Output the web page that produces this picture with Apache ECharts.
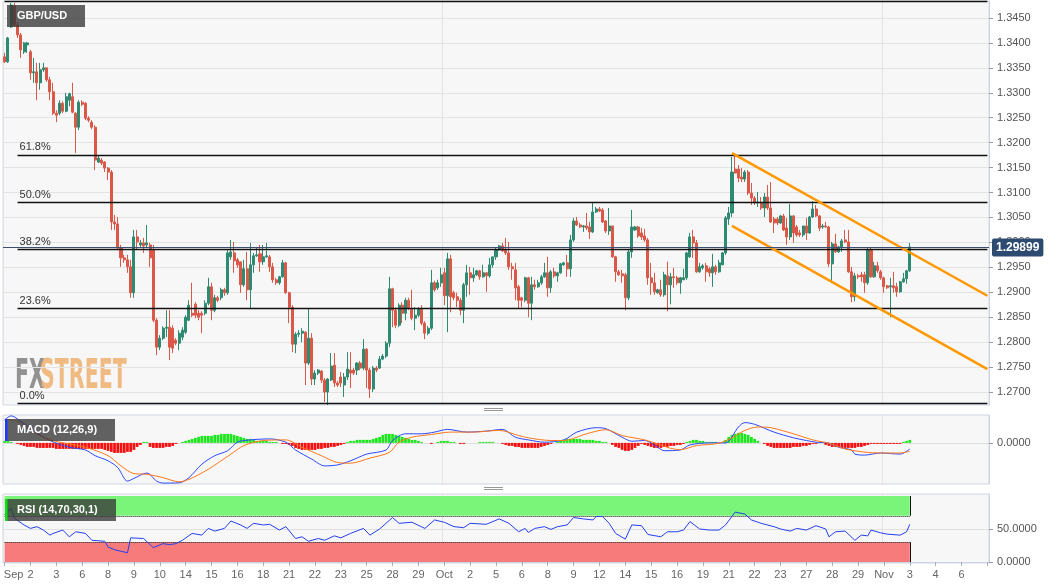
<!DOCTYPE html>
<html>
<head>
<meta charset="utf-8">
<title>GBP/USD</title>
<script src="https://cdn.jsdelivr.net/npm/echarts@6/dist/echarts.min.js"></script>
<style>
html, body { margin: 0; padding: 0; background: #ffffff; }
#chart { width: 1060px; height: 587px; }
</style>
</head>
<body>
<div id="chart"></div>
<script>
// 4h candles, 1 Sep - 3 Nov : [open, close, low, high]
const candles = [
  [1.3372,1.3362,1.3360,1.3380],[1.3362,1.3410,1.3360,1.3412],[1.3432,1.3476,1.3430,1.3480],[1.3474,1.3436,1.3432,1.3480],
  [1.3436,1.3416,1.3410,1.3442],[1.3416,1.3386,1.3370,1.3420],[1.3382,1.3400,1.3378,1.3402],[1.3396,1.3400,1.3380,1.3402],
  [1.3382,1.3340,1.3326,1.3386],[1.3340,1.3342,1.3320,1.3370],[1.3342,1.3320,1.3285,1.3360],[1.3320,1.3346,1.3306,1.3360],
  [1.3346,1.3350,1.3342,1.3360],[1.3350,1.3326,1.3322,1.3350],[1.3326,1.3302,1.3285,1.3332],[1.3302,1.3259,1.3255,1.3320],
  [1.3259,1.3255,1.3241,1.3265],[1.3259,1.3279,1.3255,1.3285],[1.3279,1.3263,1.3259,1.3283],[1.3263,1.3292,1.3261,1.3300],
  [1.3285,1.3298,1.3273,1.3300],[1.3292,1.3261,1.3259,1.3320],[1.3259,1.3231,1.3179,1.3261],[1.3231,1.3281,1.3225,1.3285],
  [1.3281,1.3277,1.3273,1.3285],[1.3279,1.3249,1.3245,1.3281],[1.3249,1.3245,1.3241,1.3253],[1.3241,1.3231,1.3227,1.3245],
  [1.3231,1.3165,1.3145,1.3235],[1.3161,1.3169,1.3159,1.3175],[1.3165,1.3159,1.3155,1.3169],[1.3161,1.3149,1.3141,1.3163],
  [1.3149,1.3141,1.3125,1.3151],[1.3141,1.3041,1.3025,1.3145],[1.3041,1.3037,1.3025,1.3055],[1.3037,1.2989,1.2985,1.3051],
  [1.2989,1.2969,1.2951,1.2995],[1.2969,1.2965,1.2959,1.2975],[1.2965,1.2951,1.2939,1.2975],[1.2951,1.2899,1.2889,1.2965],
  [1.2899,1.3011,1.2889,1.3025],[1.3011,1.3001,1.2985,1.3025],[1.2995,1.2999,1.2991,1.3005],[1.2999,1.2993,1.2979,1.3009],
  [1.2995,1.2999,1.2989,1.3035],[1.2995,1.2969,1.2951,1.2999],[1.2985,1.2844,1.2840,1.2995],[1.2844,1.2790,1.2774,1.2848],
  [1.2790,1.2808,1.2784,1.2814],[1.2808,1.2828,1.2804,1.2832],[1.2828,1.2830,1.2810,1.2864],[1.2830,1.2790,1.2764,1.2864],
  [1.2828,1.2788,1.2778,1.2834],[1.2804,1.2798,1.2794,1.2808],[1.2798,1.2818,1.2784,1.2824],[1.2810,1.2824,1.2804,1.2830],
  [1.2820,1.2850,1.2816,1.2854],[1.2844,1.2874,1.2842,1.2884],[1.2858,1.2854,1.2850,1.2919],[1.2876,1.2854,1.2848,1.2880],
  [1.2858,1.2850,1.2844,1.2864],[1.2858,1.2854,1.2818,1.2862],[1.2858,1.2878,1.2854,1.2884],[1.2878,1.2911,1.2874,1.2929],
  [1.2911,1.2864,1.2844,1.2919],[1.2864,1.2889,1.2860,1.2895],[1.2889,1.2884,1.2880,1.2893],[1.2889,1.2905,1.2884,1.2909],
  [1.2905,1.2899,1.2893,1.2909],[1.2899,1.2979,1.2895,1.2985],[1.2971,1.2981,1.2965,1.3005],[1.2979,1.2963,1.2939,1.3001],
  [1.2965,1.2955,1.2949,1.2969],[1.2961,1.2915,1.2899,1.2961],[1.2915,1.2947,1.2911,1.2965],[1.2947,1.2905,1.2884,1.2981],
  [1.2905,1.2955,1.2866,1.2999],[1.2955,1.2973,1.2939,1.2979],[1.2973,1.2975,1.2971,1.2991],[1.2977,1.2961,1.2941,1.2995],
  [1.2961,1.2971,1.2955,1.2995],[1.2971,1.2973,1.2969,1.2999],[1.2971,1.2951,1.2941,1.2975],[1.2951,1.2925,1.2919,1.2959],
  [1.2925,1.2919,1.2915,1.2929],[1.2919,1.2931,1.2915,1.2933],[1.2931,1.2959,1.2929,1.2965],[1.2959,1.2899,1.2897,1.2961],
  [1.2899,1.2870,1.2838,1.2901],[1.2870,1.2796,1.2780,1.2874],[1.2796,1.2816,1.2778,1.2820],[1.2816,1.2818,1.2810,1.2824],
  [1.2818,1.2822,1.2800,1.2828],[1.2820,1.2758,1.2714,1.2822],[1.2758,1.2808,1.2754,1.2868],[1.2808,1.2726,1.2714,1.2818],
  [1.2726,1.2738,1.2714,1.2744],[1.2738,1.2744,1.2734,1.2746],[1.2742,1.2724,1.2718,1.2744],[1.2724,1.2700,1.2680,1.2728],
  [1.2700,1.2726,1.2674,1.2728],[1.2724,1.2752,1.2722,1.2778],[1.2754,1.2718,1.2710,1.2778],[1.2718,1.2714,1.2710,1.2722],
  [1.2730,1.2718,1.2710,1.2740],[1.2714,1.2730,1.2690,1.2738],[1.2730,1.2746,1.2724,1.2780],[1.2744,1.2738,1.2708,1.2780],
  [1.2744,1.2738,1.2734,1.2748],[1.2744,1.2758,1.2734,1.2760],[1.2758,1.2748,1.2744,1.2762],[1.2748,1.2786,1.2744,1.2806],
  [1.2786,1.2744,1.2708,1.2788],[1.2744,1.2706,1.2688,1.2748],[1.2706,1.2748,1.2700,1.2752],[1.2748,1.2744,1.2740,1.2752],
  [1.2748,1.2766,1.2746,1.2772],[1.2766,1.2772,1.2764,1.2776],[1.2772,1.2798,1.2768,1.2802],[1.2798,1.2907,1.2790,1.2931],
  [1.2907,1.2864,1.2830,1.2909],[1.2864,1.2834,1.2828,1.2869],[1.2834,1.2874,1.2830,1.2878],[1.2874,1.2858,1.2838,1.2880],
  [1.2858,1.2884,1.2844,1.2889],[1.2884,1.2868,1.2864,1.2889],[1.2866,1.2848,1.2844,1.2905],[1.2848,1.2854,1.2824,1.2870],
  [1.2854,1.2866,1.2850,1.2870],[1.2866,1.2838,1.2834,1.2874],[1.2838,1.2818,1.2806,1.2842],[1.2818,1.2828,1.2814,1.2832],
  [1.2828,1.2919,1.2824,1.2945],[1.2919,1.2905,1.2901,1.2923],[1.2909,1.2919,1.2905,1.2925],[1.2919,1.2935,1.2911,1.2949],
  [1.2939,1.2893,1.2874,1.2949],[1.2893,1.2967,1.2820,1.2979],[1.2967,1.2891,1.2860,1.2975],[1.2899,1.2889,1.2884,1.2903],
  [1.2891,1.2884,1.2870,1.2899],[1.2884,1.2864,1.2854,1.2889],[1.2864,1.2915,1.2838,1.2919],[1.2915,1.2939,1.2891,1.2955],
  [1.2939,1.2929,1.2895,1.2951],[1.2929,1.2935,1.2921,1.2949],[1.2935,1.2943,1.2933,1.2945],[1.2943,1.2931,1.2925,1.2945],
  [1.2931,1.2939,1.2929,1.2955],[1.2939,1.2933,1.2901,1.2941],[1.2933,1.2955,1.2929,1.2969],[1.2955,1.2971,1.2949,1.2971],
  [1.2971,1.2985,1.2965,1.2991],[1.2985,1.2993,1.2983,1.2995],[1.2993,1.2983,1.2981,1.2999],[1.2985,1.2979,1.2975,1.3009],
  [1.2979,1.2951,1.2945,1.3001],[1.2951,1.2947,1.2925,1.2959],[1.2945,1.2909,1.2884,1.2959],[1.2911,1.2884,1.2868,1.2915],
  [1.2889,1.2884,1.2870,1.2891],[1.2884,1.2929,1.2880,1.2931],[1.2929,1.2878,1.2850,1.2931],[1.2878,1.2915,1.2844,1.2931],
  [1.2915,1.2911,1.2905,1.2925],[1.2911,1.2919,1.2909,1.2925],[1.2919,1.2931,1.2915,1.2935],[1.2931,1.2939,1.2929,1.2959],
  [1.2939,1.2909,1.2891,1.2971],[1.2909,1.2941,1.2899,1.2945],[1.2941,1.2933,1.2929,1.2949],[1.2933,1.2939,1.2921,1.2941],
  [1.2939,1.2957,1.2937,1.2959],[1.2955,1.2959,1.2953,1.2961],[1.2959,1.2947,1.2931,1.2975],[1.2947,1.3005,1.2931,1.3015],
  [1.3005,1.3043,1.3001,1.3049],[1.3043,1.3035,1.3033,1.3051],[1.3035,1.3031,1.3029,1.3039],[1.3031,1.3033,1.3021,1.3035],
  [1.3033,1.3029,1.3025,1.3059],[1.3031,1.3021,1.3007,1.3041],[1.3021,1.3061,1.3019,1.3081],[1.3061,1.3067,1.3059,1.3071],
  [1.3067,1.3063,1.3061,1.3071],[1.3065,1.3041,1.3039,1.3069],[1.3043,1.3023,1.3019,1.3045],[1.3023,1.3033,1.3015,1.3069],
  [1.3033,1.2971,1.2969,1.3033],[1.2971,1.2941,1.2921,1.2973],[1.2941,1.2935,1.2933,1.2945],[1.2937,1.2933,1.2919,1.2945],
  [1.2935,1.2889,1.2864,1.2939],[1.2889,1.2981,1.2884,1.2985],[1.2981,1.3031,1.2969,1.3065],[1.3025,1.3031,1.3023,1.3033],
  [1.3031,1.3013,1.3009,1.3033],[1.3019,1.3011,1.3005,1.3029],[1.3013,1.3005,1.3001,1.3027],[1.3005,1.2929,1.2915,1.3009],
  [1.2929,1.2919,1.2895,1.2959],[1.2919,1.2901,1.2895,1.2939],[1.2899,1.2905,1.2897,1.2907],[1.2905,1.2895,1.2891,1.2925],
  [1.2895,1.2935,1.2891,1.2941],[1.2933,1.2915,1.2862,1.2961],[1.2915,1.2931,1.2876,1.2939],[1.2931,1.2929,1.2909,1.2949],
  [1.2929,1.2919,1.2915,1.2933],[1.2919,1.2929,1.2897,1.2931],[1.2925,1.2929,1.2925,1.2947],[1.2929,1.2979,1.2925,1.2981],
  [1.2971,1.3011,1.2969,1.3019],[1.3011,1.2999,1.2969,1.3025],[1.2999,1.2941,1.2939,1.3005],[1.2941,1.2951,1.2939,1.2959],
  [1.2949,1.2953,1.2945,1.2957],[1.2953,1.2941,1.2921,1.2959],[1.2947,1.2939,1.2931,1.2951],[1.2939,1.2951,1.2911,1.2977],
  [1.2951,1.2941,1.2935,1.2955],[1.2941,1.2959,1.2939,1.2965],[1.2955,1.2979,1.2955,1.2981],[1.2979,1.3049,1.2975,1.3053],
  [1.3047,1.3059,1.3035,1.3071],[1.3059,1.3141,1.3051,1.3171],[1.3147,1.3139,1.3139,1.3179],[1.3147,1.3129,1.3121,1.3155],
  [1.3131,1.3127,1.3121,1.3149],[1.3127,1.3141,1.3121,1.3145],[1.3141,1.3099,1.3095,1.3145],[1.3099,1.3089,1.3075,1.3119],
  [1.3089,1.3079,1.3075,1.3093],[1.3079,1.3081,1.3071,1.3101],[1.3079,1.3069,1.3065,1.3091],[1.3069,1.3091,1.3051,1.3099],
  [1.3091,1.3069,1.3065,1.3115],[1.3069,1.3041,1.3039,1.3121],[1.3047,1.3039,1.3019,1.3051],[1.3047,1.3039,1.3035,1.3051],
  [1.3039,1.3053,1.3037,1.3055],[1.3053,1.3025,1.3023,1.3057],[1.3029,1.3011,1.2995,1.3049],[1.3011,1.3053,1.3005,1.3077],
  [1.3053,1.3019,1.2999,1.3055],[1.3031,1.3015,1.3011,1.3035],[1.3019,1.3015,1.3011,1.3025],[1.3015,1.3033,1.3011,1.3033],
  [1.3033,1.3019,1.3005,1.3049],[1.3019,1.3051,1.3017,1.3053],[1.3051,1.3067,1.3049,1.3083],[1.3067,1.3053,1.3051,1.3075],
  [1.3053,1.3029,1.3023,1.3055],[1.3031,1.3033,1.3027,1.3037],[1.3033,1.3031,1.3029,1.3041],[1.3031,1.2957,1.2951,1.3033],
  [1.2957,1.2997,1.2921,1.3001],[1.2997,1.2981,1.2979,1.3017],[1.2981,1.2991,1.2979,1.2993],[1.2991,1.3003,1.2981,1.3007],
  [1.3005,1.3001,1.2999,1.3025],[1.3001,1.2941,1.2939,1.3025],[1.2941,1.2891,1.2880,1.2951],[1.2891,1.2933,1.2882,1.2939],
  [1.2933,1.2931,1.2927,1.2937],[1.2935,1.2931,1.2921,1.2941],[1.2935,1.2919,1.2899,1.2941],[1.2919,1.2985,1.2915,1.2989],
  [1.2985,1.2931,1.2929,1.2989],[1.2931,1.2953,1.2929,1.2961],[1.2953,1.2943,1.2939,1.2961],[1.2941,1.2929,1.2925,1.2945],
  [1.2929,1.2911,1.2899,1.2931],[1.2913,1.2909,1.2907,1.2915],[1.2911,1.2913,1.2850,1.2929],[1.2913,1.2909,1.2899,1.2941],
  [1.2911,1.2901,1.2891,1.2919],[1.2901,1.2921,1.2899,1.2923],[1.2921,1.2927,1.2919,1.2939],[1.2927,1.2943,1.2917,1.2945],
  [1.2943,1.2991,1.2941,1.2999]
];

// one label every 8 bars
const dayLabels = ['Sep','2','3','6','8','9','10','14','15','16','18','21','22','23','25','28','29','Oct','2','5','6',
  '8','9','12','14','15','16','19','21','22','23','27','28','29','Nov','3','4','6'];
const barsPerLabel = 8;
const slotCount = 305;

const priceTicks = [1.27,1.275,1.28,1.285,1.29,1.295,1.30,1.305,1.31,1.315,1.32,1.325,1.33,1.335,1.34,1.345];
const lastPrice = 1.29899;
const fibLow = 1.2677;
const fibHigh = 1.3484;
const fibRatios = [0, 0.236, 0.382, 0.5, 0.618, 1];
// descending channel: [bar, price]
const channelTop = [[225, 1.3179], [304, 1.2893]];
const channelBottom = [[225, 1.3033], [304, 1.2746]];

// MACD (12,26,9), values in pips
const macdHist = [
  2,2,1,0,-1,-2,-3,-4,-4,-4,-5,-5,-5,-5,-5,-5,-6,-6,-6,-6,
  -6,-6,-6,-6,-6,-6,-6,-6,-6,-6,-6,-7,-8,-9,-10,-10,-10,-10,-9,-9,
  -7,-4,-2,1,1,-4,-5,-5,-5,-5,-4,-4,-3,-1,0,1,2,3,4,5,
  6,7,7,7,7,8,8,9,9,9,9,8,7,6,5,4,4,3,2,2,
  2,2,1,1,1,0,-1,-1,-2,-3,-5,-6,-7,-7,-7,-7,-7,-6,-6,-5,
  -5,-4,-4,-3,-2,-1,1,2,2,3,3,3,3,3,4,5,6,8,9,9,
  9,8,7,6,5,4,3,3,2,1,0,0,-1,0,1,2,2,2,1,1,
  0,-1,-1,0,0,0,0,1,1,1,1,1,0,0,-1,-2,-3,-3,-4,-4,
  -5,-5,-5,-5,-5,-5,-4,-3,-2,-1,0,1,2,3,4,4,4,4,4,3,
  3,3,3,2,2,1,1,0,-2,-4,-5,-7,-8,-8,-7,-5,-3,-1,-2,-3,
  -4,-5,-5,-5,-4,-4,-3,-3,-2,-2,-1,1,2,3,3,2,2,1,1,1,
  1,0,1,3,6,8,9,10,10,9,8,6,4,2,0,-1,-3,-4,-5,-5,
  -5,-5,-5,-5,-4,-4,-4,-3,-3,-2,-1,-1,0,0,-2,-3,-4,-4,-4,-5,
  -5,-5,-5,-5,-4,-4,-3,-2,-1,-1,-1,-1,-1,-1,-1,-1,-1,-1,1,2,
  3
];
const macdLine = [[0,23],[2,27],[3,26],[9,12.5],[14,2.4],[20,-4.4],[25,-7.1],[28,-12.8],[32,-17.9],[35,-24.7],
  [38,-38.2],[40,-35.5],[44,-30.1],[47,-38.2],[49,-40.2],[54,-39.9],[57,-34.8],[61,-21.3],[65,-12.8],[69,-7.8],
  [72,0.7],[76,3],[82,4],[87,0.7],[90,-7.1],[95,-16.2],[99,-23],[103,-22],[107,-17.9],[112,-11.2],
  [118,-7.1],[120,2.4],[124,9.1],[129,9.1],[133,10.8],[137,13.5],[143,10.8],[149,11.8],[154,13.5],[158,5.7],
  [162,3],[167,0.7],[173,3],[177,10.8],[183,15.2],[186,14.2],[191,5.7],[194,1.7],[198,2.4],[202,-4.4],
  [204,-7.8],[209,-7.1],[212,-2],[218,0],[223,0],[227,15.9],[229,20.3],[232,18.6],[238,10.8],[244,5.1],
  [248,2.4],[251,0.7],[255,-0.3],[258,-4.4],[262,-7.1],[263,-11.2],[266,-12.2],[271,-10.1],[277,-11.2],[280,-6.1]];
const signalLine = [[0,23.3],[3,22.6],[9,10.8],[14,3],[25,-4.4],[32,-12.8],[36,-23],[40,-30.7],[44,-31.4],[49,-34.8],
  [54,-38.9],[57,-36.5],[63,-26.4],[70,-11.2],[74,-2.7],[80,2.4],[87,3],[92,-4.4],[98,-12.8],[103,-19.6],
  [107,-20.3],[113,-15.2],[119,-9.5],[122,0.7],[126,5.7],[132,8.4],[138,10.8],[145,10.8],[153,12.5],[159,7.4],
  [162,5.1],[169,2.4],[173,2.4],[180,9.1],[186,13.2],[191,7.4],[198,3],[202,-1],[206,-5.4],[209,-6.8],
  [214,-2.7],[221,-0.3],[225,5.1],[229,12.5],[233,15.9],[237,15.2],[244,9.1],[250,3],[255,-0.3],[260,-6.1],
  [267,-9.5],[273,-10.1],[277,-10.1],[280,-8.4]];

// RSI (14)
const rsiLine = [[0,71.8],[2,81.7],[3,66.4],[6,56.1],[8,50.9],[10,53.5],[12,48.4],[14,40.7],[15,43.3],[18,48.4],
  [20,38.2],[22,45.8],[25,43.3],[27,32.9],[31,31.4],[32,22.7],[34,18.6],[38,14],[39,36.6],[43,35.6],
  [46,21.7],[49,27.8],[51,26.3],[53,27.8],[55,32.9],[58,43.3],[61,40.7],[63,50.9],[65,46.8],[68,50.9],
  [70,62.1],[73,56.1],[75,50.9],[77,58.6],[80,56.1],[82,57.1],[85,48.4],[87,53.5],[90,35.6],[92,38.2],
  [94,31.4],[97,35.6],[99,32.9],[102,39.6],[104,36.6],[107,43.3],[111,50.9],[113,40.7],[116,50],[120,67.4],
  [122,58.6],[126,60.2],[130,50.9],[133,63.7],[136,60.2],[139,53.5],[142,52],[144,58.6],[149,57.1],[153,65.3],
  [156,58.6],[159,45.8],[161,50.9],[162,44.7],[164,50.9],[167,53.5],[169,49.4],[171,53.5],[174,56.1],[176,67.4],
  [179,65.3],[182,63.7],[183,68.9],[185,68.9],[187,58.6],[189,43.3],[192,34.6],[194,56.1],[197,55],[199,41.7],
  [203,38.2],[205,45.8],[208,45.8],[210,48.4],[212,61.2],[215,50],[218,48.4],[221,48.4],[223,56.1],[226,75.6],
  [229,72.6],[231,63.7],[234,58.6],[238,53.5],[240,50],[243,46.8],[245,50.9],[248,48.4],[251,55],[254,50],
  [255,38.2],[257,45.8],[260,46.8],[263,32.9],[265,40.7],[267,39.6],[268,48.4],[271,44.2],[273,42.2],[277,40.7],
  [279,45.8],[280,57.1]];
const rsiBands = [[70, 100], [0, 30]];

const pip = 0.0001;
const FONT = '"Liberation Sans", Arial, sans-serif';
const lastBar = candles.length - 1;
const slots = Array.from({ length: slotCount }, (_, i) => String(i));
const monthSlots = dayLabels
  .map((d, k) => (isNaN(Number(d)) ? k * barsPerLabel : -1))
  .filter(i => i >= 0);

const chart = echarts.init(document.getElementById('chart'), null, { renderer: 'canvas' });

function xAxisFor(gridIndex, showLabels) {
  return {
    type: 'category',
    gridIndex: gridIndex,
    data: slots,
    boundaryGap: true,
    axisLine: { show: showLabels, lineStyle: { color: '#ccd3e0' } },
    axisTick: {
      show: showLabels, interval: barsPerLabel - 1, alignWithLabel: true, length: 4,
      lineStyle: { color: '#a9b0bd' }
    },
    axisLabel: {
      show: showLabels,
      interval: barsPerLabel - 1,
      color: '#666',
      fontSize: 11,
      fontFamily: FONT,
      margin: 6,
      formatter: (v, i) => {
        const t = dayLabels[Math.round(i / barsPerLabel)] || '';
        return i === 0 ? '{first|' + t + '}' : t;
      },
      rich: { first: { padding: [0, 0, 0, 18], color: '#666', fontSize: 11, fontFamily: FONT } }
    },
    splitLine: {
      show: true,
      interval: (i) => monthSlots.indexOf(i) >= 0,
      lineStyle: { color: '#e3e3e3', width: 1 }
    }
  };
}

const fibMarks = fibRatios.map(r => {
  const lvl = fibLow + r * (fibHigh - fibLow);
  return [
    { coord: [r === 1 ? 0 : 4, lvl], label: { show: r !== 1, formatter: (r * 100).toFixed(1) + '%' } },
    { coord: [slotCount - 1, lvl] }
  ];
});

const channelStyle = { color: '#ff9800', width: 2.5, type: 'solid' };
const trendMarks = [channelTop, channelBottom].map(c => [
  { coord: c[0], lineStyle: channelStyle, label: { show: false } },
  { coord: c[1] }
]);

// RSI band edges: dotted level lines and solid end caps
const bandEdgeStyle = { color: '#111', width: 1, type: 'dotted' };
const bandCapStyle = { color: '#111', width: 1, type: 'solid' };
const rsiEdgeMarks = [
  [{ coord: [0, 70], lineStyle: bandEdgeStyle }, { coord: [lastBar, 70] }],
  [{ coord: [0, 30], lineStyle: bandEdgeStyle }, { coord: [lastBar, 30] }],
  [{ coord: [lastBar, 70], lineStyle: bandCapStyle }, { coord: [lastBar, 100] }],
  [{ coord: [lastBar, 0], lineStyle: bandCapStyle }, { coord: [lastBar, 30] }]
];

const option = {
  animation: false,
  backgroundColor: '#ffffff',
  textStyle: { fontFamily: FONT },
  grid: [
    { left: 3, right: 71, top: 1, height: 404, show: true, backgroundColor: '#f7f7f7', borderColor: '#d3d9e6', borderWidth: 1 },
    { left: 3, right: 71, top: 415, height: 69, show: true, backgroundColor: '#f7f7f7', borderColor: '#cfd5e3', borderWidth: 1 },
    { left: 3, right: 71, top: 494, height: 69, show: true, backgroundColor: '#f7f7f7', borderColor: '#cfd5e3', borderWidth: 1 }
  ],
  xAxis: [xAxisFor(0, false), xAxisFor(1, false), xAxisFor(2, true)],
  yAxis: [
    {
      type: 'value', gridIndex: 0, position: 'right', scale: true,
      min: 1.2674, max: 1.3484,
      axisLine: { show: true, lineStyle: { color: '#ccd3e0' } },
      axisTick: { show: true, length: 4, customValues: priceTicks, lineStyle: { color: '#999' } },
      axisLabel: { customValues: priceTicks, color: '#555', fontSize: 11, margin: 8, formatter: v => v.toFixed(4) },
      splitLine: { show: true, lineStyle: { color: '#e3e3e3' } }
    },
    {
      type: 'value', gridIndex: 1, position: 'right',
      min: -0.00411, max: 0.00279,
      axisLine: { show: true, lineStyle: { color: '#ccd3e0' } },
      axisTick: { show: true, length: 4, customValues: [0], lineStyle: { color: '#999' } },
      axisLabel: { customValues: [0], color: '#555', fontSize: 11, margin: 8, formatter: v => v.toFixed(4) },
      splitLine: { show: true, lineStyle: { color: '#dedede' } }
    },
    {
      type: 'value', gridIndex: 2, position: 'right',
      min: -1.5, max: 103,
      axisLine: { show: true, lineStyle: { color: '#ccd3e0' } },
      axisTick: { show: true, length: 4, customValues: [0, 50], lineStyle: { color: '#999' } },
      axisLabel: { customValues: [0, 50], color: '#555', fontSize: 11, margin: 8, formatter: v => v.toFixed(4) },
      splitLine: { show: true, lineStyle: { color: '#e0e0e0' } }
    }
  ],
  series: [
    {
      type: 'candlestick',
      xAxisIndex: 0, yAxisIndex: 0,
      data: candles,
      barWidth: '78%',
      itemStyle: {
        color: '#2e8a70', color0: '#d95848',
        borderColor: '#2e8a70', borderColor0: '#d95848', borderWidth: 1
      },
      markLine: {
        silent: true,
        symbol: ['none', 'none'],
        animation: false,
        precision: 5,
        lineStyle: { color: '#111', width: 1.3, type: 'solid' },
        label: { position: 'insideStartTop', color: '#333', fontSize: 11, fontFamily: FONT, distance: 2 },
        data: [
          ...fibMarks,
          ...trendMarks,
          {
            yAxis: lastPrice,
            lineStyle: { color: '#3b4f75', width: 1, type: 'solid' },
            label: {
              show: true, position: 'end', formatter: lastPrice.toFixed(5),
              backgroundColor: '#2d4a70', color: '#fff', fontWeight: 'bold', fontSize: 12,
              padding: [3, 4, 3, 4], borderRadius: 2, distance: 3
            }
          }
        ]
      }
    },
    {
      type: 'bar',
      xAxisIndex: 1, yAxisIndex: 1,
      data: macdHist.map(v => v * pip),
      barCategoryGap: '15%',
      itemStyle: { color: p => (p.value >= 0 ? '#1ee61e' : '#f51010') }
    },
    {
      type: 'line',
      xAxisIndex: 1, yAxisIndex: 1,
      data: macdLine.map(p => [p[0], p[1] * pip]),
      smooth: 0.3, showSymbol: false,
      lineStyle: { color: '#2a48ff', width: 1 }
    },
    {
      type: 'line',
      xAxisIndex: 1, yAxisIndex: 1,
      data: signalLine.map(p => [p[0], p[1] * pip]),
      smooth: 0.3, showSymbol: false,
      lineStyle: { color: '#ff7818', width: 1 }
    },
    {
      type: 'line',
      xAxisIndex: 2, yAxisIndex: 2,
      data: rsiLine,
      showSymbol: false,
      lineStyle: { color: '#2440ee', width: 1 },
      z: 5,
      markArea: {
        silent: true,
        data: [
          [{ xAxis: 0, yAxis: rsiBands[0][0], itemStyle: { color: '#7af57a' } }, { xAxis: lastBar, yAxis: rsiBands[0][1] }],
          [{ xAxis: 0, yAxis: rsiBands[1][0], itemStyle: { color: '#f77b7b' } }, { xAxis: lastBar, yAxis: rsiBands[1][1] }]
        ]
      },
      markLine: {
        silent: true,
        symbol: ['none', 'none'],
        animation: false,
        label: { show: false },
        data: rsiEdgeMarks
      }
    }
  ],
  graphic: [
    {
      type: 'group', x: 15, y: 358, scaleX: 0.57, silent: true, z: 1,
      children: [
        { type: 'text', style: { x: 0, y: 0, text: 'FX', fill: 'rgba(128,128,128,0.85)', font: 'bold 40px "DejaVu Sans Condensed"' } },
        { type: 'text', style: { x: 44, y: 0, text: 'STREET', fill: 'rgba(238,176,110,0.85)', font: 'bold 40px "DejaVu Sans Condensed"' } }
      ]
    },
    { type: 'rect', shape: { x: 7, y: 5, width: 78, height: 22 }, style: { fill: 'rgba(55,55,55,0.78)' }, z: 100 },
    { type: 'text', style: { x: 17, y: 16, text: 'GBP/USD', fill: '#fff', font: 'bold 11px ' + FONT, verticalAlign: 'middle' }, z: 101 },
    { type: 'rect', shape: { x: 5, y: 419, width: 110, height: 22 }, style: { fill: 'rgba(55,55,55,0.78)' }, z: 100 },
    { type: 'rect', shape: { x: 5, y: 419, width: 2.5, height: 22 }, style: { fill: '#1b3bff' }, z: 101 },
    { type: 'text', style: { x: 17, y: 430, text: 'MACD (12,26,9)', fill: '#fff', font: 'bold 11px ' + FONT, verticalAlign: 'middle' }, z: 101 },
    { type: 'rect', shape: { x: 5, y: 499, width: 111, height: 22 }, style: { fill: 'rgba(55,55,55,0.78)' }, z: 100 },
    { type: 'rect', shape: { x: 5, y: 499, width: 2.5, height: 22 }, style: { fill: '#10e010' }, z: 101 },
    { type: 'text', style: { x: 17, y: 510, text: 'RSI (14,70,30,1)', fill: '#fff', font: 'bold 11px ' + FONT, verticalAlign: 'middle' }, z: 101 },
    { type: 'line', shape: { x1: 484, y1: 408.5, x2: 503, y2: 408.5 }, style: { stroke: '#999', lineWidth: 1 }, z: 101 },
    { type: 'line', shape: { x1: 484, y1: 410.5, x2: 503, y2: 410.5 }, style: { stroke: '#999', lineWidth: 1 }, z: 101 },
    { type: 'line', shape: { x1: 484, y1: 487.5, x2: 503, y2: 487.5 }, style: { stroke: '#999', lineWidth: 1 }, z: 101 },
    { type: 'line', shape: { x1: 484, y1: 489.5, x2: 503, y2: 489.5 }, style: { stroke: '#999', lineWidth: 1 }, z: 101 }
  ]
};

chart.setOption(option);
</script>
</body>
</html>
